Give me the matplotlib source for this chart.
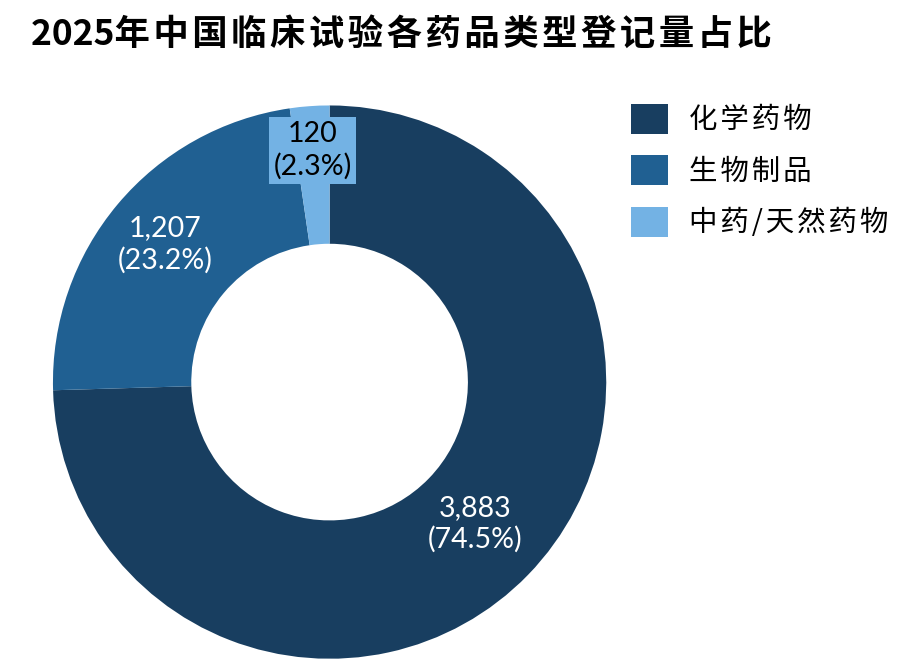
import numpy as np
import matplotlib.pyplot as plt

plt.rcParams['font.family'] = ['Noto Sans CJK SC', 'DejaVu Sans']

# data
categories = ['化学药物', '生物制品', '中药/天然药物']
counts = [3883, 1207, 120]
shares = [74.5, 23.2, 2.3]
colors = ['#183E60', '#206092', '#73B2E4']
title = '2025年中国临床试验各药品类型登记量占比'


def spaced(s, sp='\u200a'):
    return sp.join(s)


fig = plt.figure(figsize=(9.13, 6.68), dpi=100)
ax = fig.add_axes([0.058, 0.0105, 0.606, 0.835])

wedges, _ = ax.pie(counts, colors=colors, startangle=90, counterclock=False,
                   radius=1, wedgeprops=dict(width=0.5, linewidth=0))
ax.set_xlim(-1, 1)
ax.set_ylim(-1, 1)
ax.set_aspect('equal')
ax.axis('off')

label_r = [0.735, 0.775, 0.84]
for i, w in enumerate(wedges):
    mid = np.deg2rad((w.theta1 + w.theta2) / 2)
    x, y = label_r[i] * np.cos(mid), label_r[i] * np.sin(mid)
    txt = f'{counts[i]:,}\n({shares[i]}%)'
    kw = dict(ha='center', va='center', fontsize=20.5,
              family=['Lato', 'DejaVu Sans'], linespacing=1.25)
    if i == 2:
        ax.text(x, y, txt, color='black',
                bbox=dict(boxstyle='square,pad=0.15', fc=colors[2], ec='none'), **kw)
    else:
        ax.text(x, y, txt, color='white', **kw)

fig.text(0.034, 0.948, title[:4] + spaced(title[4:]), fontsize=25.5,
         fontweight='bold', ha='left', va='center')

fig.legend(wedges, [spaced(c) for c in categories], loc='upper left',
           bbox_to_anchor=(0.675, 0.866),
           frameon=False, fontsize=20.5, handlelength=1.3, handleheight=1.25,
           handletextpad=0.75, labelspacing=0.7, borderpad=0)

fig.savefig('out.png', dpi=100)
